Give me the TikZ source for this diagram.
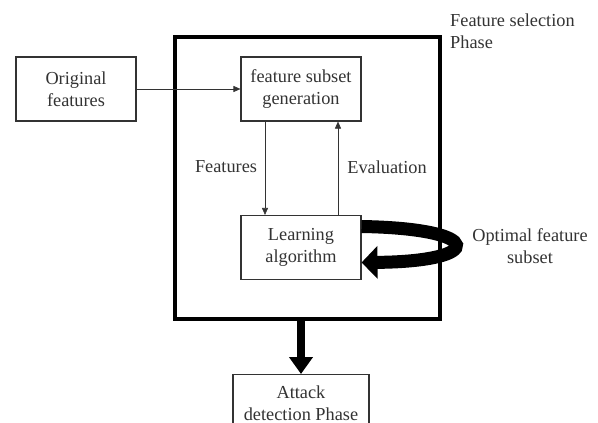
\documentclass[tikz,border=0pt]{standalone}
\usepackage{fontspec}
\setmainfont{Liberation Serif}
\usetikzlibrary{arrows.meta}
\definecolor{inkcolor}{rgb}{0.2,0.2,0.2}

\begin{document}
\begin{tikzpicture}[x=1pt, y=-1pt, text=inkcolor, font=\fontsize{18.3}{22}\selectfont,
    box/.style={draw=inkcolor, line width=1.1pt, minimum width=120pt, minimum height=64pt, align=center, inner sep=0pt},
    flow/.style={draw=inkcolor, line width=0.6pt, -{Triangle[length=7pt,width=6pt]}},
    loopback/.style={draw=black, line width=13pt, -{Triangle[length=16pt,width=32pt]}},
    outflow/.style={draw=black, line width=8pt, -{Triangle[length=17pt,width=23pt]}}]
  \useasboundingbox (0,0) rectangle (598,423);
  \clip (0,0) rectangle (598,423);
  \fill[white] (0,0) rectangle (598,423);
  % phase frame
  \node[draw=black, line width=4pt, minimum width=265pt, minimum height=282pt, inner sep=0pt] (frame) at (307.5,178) {};
  \node[box] (orig) at (76,89) {Original\\features};
  \node[box] (gen) at (301,89) {feature subset\\generation};
  \node[box] (learn) at (301,247.5) {Learning\\algorithm};
  \node[box, minimum width=136pt, minimum height=58pt, anchor=north] (attack) at (301,374) {Attack\\detection Phase};
  % labels
  \node (featlbl) at (226,167) {Features};
  \node (evallbl) at (387,167) {Evaluation};
  \node[align=left, anchor=north west, inner sep=0pt] (phaselbl) at (450,14) {Feature selection\\Phase};
  \node[align=center] (optlbl) at (530,246) {Optimal feature\\subset};
  % connectors
  \draw[flow] (orig) -- (gen);
  \draw[flow] ([xshift=-36pt]gen.south) -- ([xshift=-36pt]learn.north);
  \draw[flow] ([xshift=37pt]learn.north) -- ([xshift=37pt]gen.south);
  \draw[loopback] ([yshift=21pt]learn.east) .. controls +(124,2) and +(124,-1) .. ([yshift=-15pt]learn.east);
  \draw[outflow] (frame.south -| attack.north) -- (attack.north);
\end{tikzpicture}
\end{document}
